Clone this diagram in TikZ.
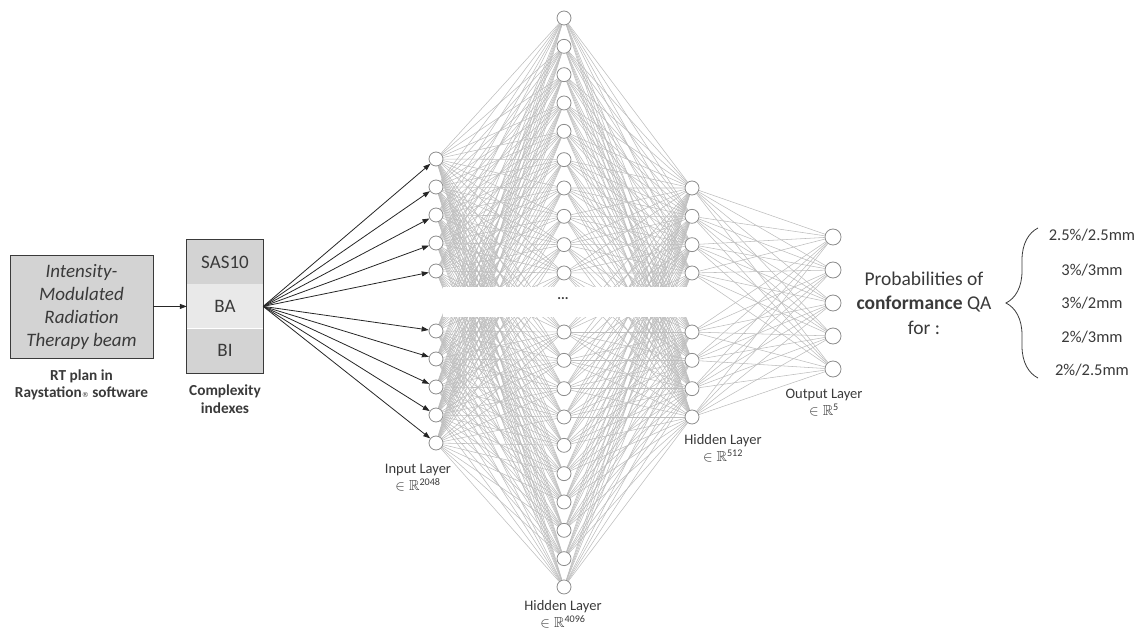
\documentclass[tikz,border=0pt]{standalone}
\usepackage{fontspec}
\usepackage{amssymb}
\setmainfont{Carlito}
\newfontfamily\regfont{DejaVu Sans}
\usetikzlibrary{arrows.meta,positioning,decorations.pathreplacing}
\pgfdeclarelayer{back}
\pgfdeclarelayer{mask}
\pgfsetlayers{back,mask,main}
\definecolor{ink}{HTML}{3A3A3A}
\definecolor{wirecol}{HTML}{BDBDBD}
\definecolor{boxgray}{HTML}{D3D3D3}
\definecolor{palegray}{HTML}{E9E9E9}

\begin{document}
\begin{tikzpicture}[x=1pt,y=-1pt,
  neuron/.style={circle,draw=gray!90,fill=white,line width=0.8pt,minimum size=14pt,inner sep=0pt},
  outneuron/.style={neuron,minimum size=16pt},
  cell/.style={rectangle,minimum width=76pt,minimum height=44pt,inner sep=0pt,text=ink,font=\fontsize{19}{21}\selectfont},
  caption/.style={align=center,text=ink,font=\fontsize{14.5}{17}\selectfont},
  qa/.style={text=ink,font=\fontsize{16.5}{16.5}\selectfont},
  wire/.style={draw=wirecol,line width=0.55pt},
  feed/.style={draw=black!85,line width=0.8pt,-{Triangle[length=7pt,width=5pt]}}]
\useasboundingbox (0,0) rectangle (1140,628);
% plan and complexity indexes
\node [draw=ink,fill=boxgray,line width=0.9pt,minimum width=143pt,minimum height=103pt,align=center,text=ink,font=\fontsize{19}{23}\selectfont\itshape] (beam) at (81.5,306.5) {Intensity-\\Modulated\\Radiation\\Therapy beam};
\node [caption,font=\fontsize{15.3}{17.5}\selectfont\bfseries] (plan) at (81.5,385) {RT plan in\\Raystation{\regfont\fontsize{7}{7}\selectfont\mdseries ®} software};
\node [cell,fill=boxgray] (sas) at (225,262) {SAS10};
\node [cell,fill=palegray,below=0pt of sas] (ba) {BA};
\node [cell,fill=boxgray,below=0pt of ba] (bi) {BI};
\draw [ink,line width=0.9pt] (sas.north west) rectangle (bi.south east);
\node [caption,font=\fontsize{15.3}{17.5}\selectfont\bfseries] (cplx) at (225,399) {Complexity\\indexes};
\draw [feed] (beam) -- (ba);
% layers
\foreach \k in {1,...,5} \node [neuron] (i\k) at (436,{159+28*(\k-1)}) {};
\foreach \k in {6,...,10} \node [neuron] (i\k) at (436,{331+28*(\k-6)}) {};
\foreach \k in {1,...,10} \node [neuron] (h\k) at (564,{18+28.33*(\k-1)}) {};
\foreach \k in {11,...,20} \node [neuron] (h\k) at (564,{332+28.33*(\k-11)}) {};
\foreach \k in {1,...,4} \node [neuron] (g\k) at (692,{188+28.33*(\k-1)}) {};
\foreach \k in {5,...,8} \node [neuron] (g\k) at (692,{332+28.33*(\k-5)}) {};
\foreach \k in {1,...,5} \node [outneuron] (o\k) at (833,{237+33*(\k-1)}) {};
% wires
\begin{pgfonlayer}{back}
\foreach \a in {1,...,10} \foreach \b in {1,...,20} \draw [wire] (i\a) -- (h\b);
\foreach \a in {1,...,20} \foreach \b in {1,...,8} \draw [wire] (h\a) -- (g\b);
\foreach \a in {1,...,8} \foreach \b in {1,...,5} \draw [wire] (g\a) -- (o\b);
\end{pgfonlayer}
\begin{pgfonlayer}{mask}
\fill [white] (443,287) rectangle (697,317);
\end{pgfonlayer}
\node [text=ink,font=\fontsize{14}{14}\selectfont\bfseries] (dots) at (563,299) {...};
\foreach \k in {1,...,10} \draw [feed] (ba.east) -- (i\k);
% captions
\node [caption] (inlab) at (418,478) {Input Layer\\{$\in\mathbb{R}$}\textsuperscript{2048}};
\node [caption] (h1lab) at (563,614) {Hidden Layer\\{$\in\mathbb{R}$}\textsuperscript{4096}};
\node [caption] (h2lab) at (723,448) {Hidden Layer\\{$\in\mathbb{R}$}\textsuperscript{512}};
\node [caption] (outlab) at (824,403) {Output Layer\\{$\in\mathbb{R}$}\textsuperscript{5}};
% probabilities
\node [align=center,text=ink,font=\fontsize{19.5}{24.5}\selectfont] (prob) at (924,303) {Probabilities of\\\textbf{conformance} QA\\for :};
\draw [ink,line width=0.8pt,decorate,decoration={brace,amplitude=32pt,aspect=0.5}] (1038,378) -- (1038,228);
\node [qa] (t1) at (1092,235) {2.5\%/2.5mm};
\node [qa] (t2) at (1092,270) {3\%/3mm};
\node [qa] (t3) at (1092,303) {3\%/2mm};
\node [qa] (t4) at (1092,337) {2\%/3mm};
\node [qa] (t5) at (1092,370) {2\%/2.5mm};
\end{tikzpicture}
\end{document}
